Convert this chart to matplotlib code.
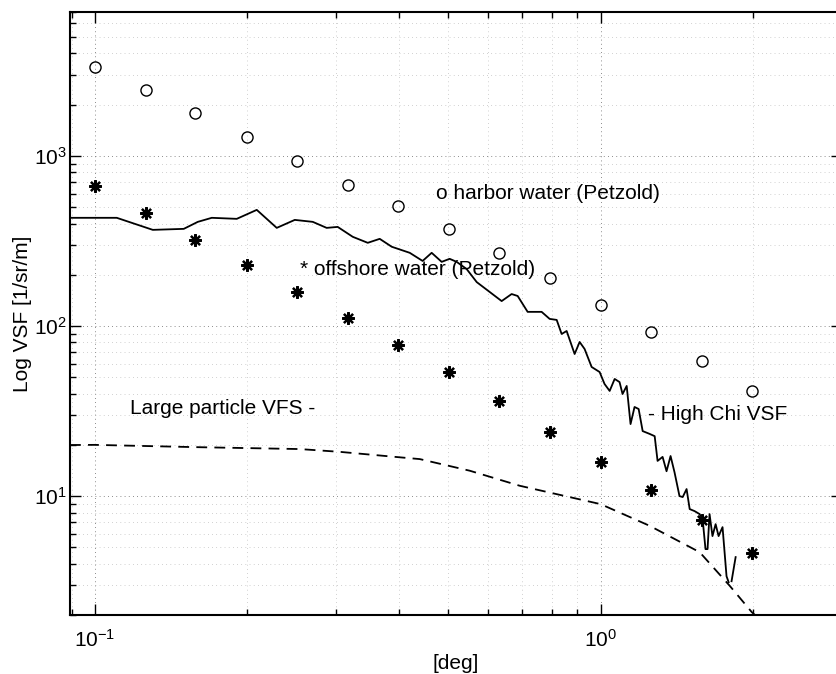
import matplotlib
matplotlib.use("Agg")
import matplotlib.pyplot as plt
import numpy as np

plt.rcParams['font.family'] = ['Liberation Sans', 'DejaVu Sans']
plt.rcParams['mathtext.fontset'] = 'custom'
plt.rcParams['mathtext.rm'] = 'Liberation Sans'
plt.rcParams['mathtext.it'] = 'Liberation Sans:italic'
plt.rcParams['mathtext.bf'] = 'Liberation Sans:bold'
plt.rcParams['axes.unicode_minus'] = False

# Petzold angles [deg]
petzold_deg = [0.1, 0.126, 0.158, 0.2, 0.251, 0.316, 0.398, 0.501, 0.631,
               0.794, 1.0, 1.259, 1.585, 1.995]
harbor_vsf = [3340, 2445, 1775, 1282, 931, 678, 504, 373, 268, 191, 133,
              92, 62, 41.5]
offshore_vsf = [664, 460, 322, 228, 159, 111, 77, 53.8, 36.4, 23.9, 15.9,
                10.9, 7.26, 4.62]

# large particle VSF (dashed)
large_deg = [0.0893, 0.1, 0.1576, 0.254, 0.305, 0.401, 0.439, 0.551, 0.692,
             1.0, 1.25, 1.57, 1.80, 1.99, 2.1]
large_vsf = [19.96, 20.0, 19.4, 18.9, 18.2, 16.9, 16.5, 14.1, 11.5,
             8.97, 6.69, 4.68, 2.97, 2.08, 1.8]

# high chi VSF (solid), nan = gap
chi_deg = [0.0897, 0.1105, 0.1302, 0.1499, 0.1598, 0.1703, 0.1908, 0.2090,
           0.2289, 0.2485, 0.2697, 0.2873, 0.3021, 0.3236, 0.3464, 0.3658,
           0.3864, 0.4194, 0.4447, 0.4634, 0.4850, 0.5029, 0.5193, 0.5434,
           0.5689, 0.6033, 0.6373, 0.6669, 0.6855, 0.7173, 0.7645, 0.7929,
           0.8187, 0.8374, 0.8567, 0.8884, 0.9089, 0.9297, 0.9599, 0.9955,
           1.018, 1.042, 1.066, 1.090, 1.105, 1.126, 1.146, 1.167, 1.189,
           1.211, 1.250, 1.279, 1.296, 1.326, 1.350, 1.375, 1.400, 1.432,
           1.453, 1.479, 1.500, 1.534, 1.569, 1.591, 1.612, 1.627, 1.642,
           1.664, 1.688, 1.711, 1.742, 1.774, 1.791, np.nan, 1.815, 1.849]
chi_vsf = [432, 432, 367, 372, 409, 432, 426, 481,
           377, 420, 409, 377, 382, 334, 308, 325,
           292, 269, 241, 269, 238, 248, 238, 216,
           181, 158.5, 140, 154, 150, 121, 121, 110,
           108.5, 89.7, 93.4, 68.4, 80.5, 73.2, 57.4, 53.6,
           45.6, 41.5, 48.8, 46.8, 39.8, 44.4, 26.5, 33.4, 32.5,
           24.1, 23.2, 22.5, 16.1, 17.0, 14.0, 17.2, 13.8, 10.0,
           9.87, 11.0, 8.39, 8.16, 7.84, 7.32, 4.88, 4.88, 7.84,
           5.82, 6.84, 5.82, 6.57, 3.38, 3.12, np.nan, 3.16, 4.38]

fig = plt.figure(figsize=(8.37, 6.74), dpi=100)
ax = fig.add_axes([0.0836, 0.0875, 0.9223, 0.8947])

ax.plot(petzold_deg, harbor_vsf, 'o', mfc='none', mec='black', ms=8, mew=1.0)
ax.plot(petzold_deg, offshore_vsf, linestyle='none', marker=(8, 2, 0),
        color='black', ms=9, mew=1.6)
ax.plot(chi_deg, chi_vsf, '-', color='black', lw=1.3)
ax.plot(large_deg, large_vsf, color='black', lw=1.3, dashes=(6, 4))

ax.set_xscale('log')
ax.set_yscale('log')
ax.set_xlim(0.0893, 3.0)
ax.set_ylim(2.0, 7000)

ax.grid(which='major', color='0.4', linestyle=(0, (1, 4)), lw=0.6)
ax.grid(which='minor', color='0.65', linestyle=(0, (1, 5)), lw=0.5)

ax.tick_params(which='both', direction='in', top=True, right=True,
               labelsize=15, width=1.0)
ax.tick_params(which='major', length=8)
ax.tick_params(which='minor', length=4)
ax.tick_params(axis='y', pad=2)
ax.tick_params(axis='x', pad=10)
for s in ax.spines.values():
    s.set_linewidth(1.5)

ax.set_xlabel('[deg]', fontsize=15, labelpad=2)
ax.set_ylabel('Log VSF [1/sr/m]', fontsize=15, labelpad=2)

ax.text(0.472, 597, 'o harbor water (Petzold)', fontsize=15, va='center')
ax.text(0.254, 216, '* offshore water (Petzold)', fontsize=15, va='center')
ax.text(0.1173, 32.5, 'Large particle VFS -', fontsize=15, va='center')
ax.text(1.238, 30.3, '- High Chi VSF', fontsize=15, va='center')

fig.savefig('out.png', dpi=100)
